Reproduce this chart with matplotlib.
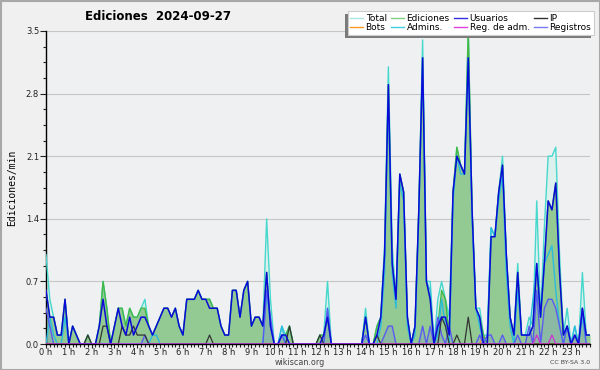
import matplotlib
matplotlib.use("Agg")
import matplotlib.pyplot as plt
from matplotlib.lines import Line2D
from matplotlib.patches import Rectangle
from matplotlib.ticker import MultipleLocator, FixedLocator
import numpy as np

# edits per minute, one value per 10 minutes (144 slots), one row per hour
total = [
    1.0, 0.5, 0.3, 0.1, 0.1, 0.5,
    0, 0.2, 0.1, 0, 0, 0.1,
    0, 0, 0.2, 0.7, 0.4, 0,
    0.2, 0.4, 0.4, 0.2, 0.4, 0.3,
    0.3, 0.4, 0.5, 0.2, 0.1, 0.2,
    0.3, 0.4, 0.4, 0.3, 0.4, 0.2,
    0.1, 0.5, 0.5, 0.5, 0.6, 0.5,
    0.5, 0.5, 0.4, 0.4, 0.2, 0.1,
    0.1, 0.6, 0.6, 0.3, 0.6, 0.7,
    0.2, 0.3, 0.3, 0.2, 1.4, 0.5,
    0, 0, 0.2, 0.1, 0.2, 0,
    0, 0, 0, 0, 0, 0,
    0.1, 0.1, 0.7, 0, 0, 0,
    0, 0, 0, 0, 0, 0,
    0.4, 0, 0, 0.2, 0.3, 1.1,
    3.1, 1.1, 0.5, 1.9, 1.7, 0.3,
    0, 0.2, 1.5, 3.4, 0.7, 0.7,
    0, 0.5, 0.7, 0.5, 0.3, 1.7,
    2.2, 2.0, 1.9, 3.5, 1.5, 0.4,
    0.4, 0.1, 0.1, 1.3, 1.2, 1.7,
    2.1, 1.0, 0.3, 0.1, 0.9, 0.1,
    0.1, 0.3, 0.2, 1.6, 0.3, 1.3,
    2.1, 2.1, 2.2, 1.0, 0.1, 0.4,
    0, 0.2, 0, 0.8, 0.1, 0.1,
]

ediciones = [
    0.6, 0.3, 0.3, 0.1, 0.1, 0.5,
    0, 0.2, 0.1, 0, 0, 0.1,
    0, 0, 0.2, 0.7, 0.4, 0,
    0.2, 0.4, 0.4, 0.2, 0.4, 0.3,
    0.3, 0.4, 0.4, 0.2, 0.1, 0.2,
    0.3, 0.4, 0.4, 0.3, 0.4, 0.2,
    0.1, 0.5, 0.5, 0.5, 0.6, 0.5,
    0.5, 0.5, 0.4, 0.4, 0.2, 0.1,
    0.1, 0.6, 0.6, 0.3, 0.6, 0.7,
    0.2, 0.3, 0.3, 0.2, 0.8, 0.2,
    0, 0, 0.1, 0.1, 0.2, 0,
    0, 0, 0, 0, 0, 0,
    0.1, 0.1, 0.3, 0, 0, 0,
    0, 0, 0, 0, 0, 0,
    0.3, 0, 0, 0.2, 0.3, 1.0,
    2.9, 0.9, 0.5, 1.9, 1.7, 0.3,
    0, 0.2, 1.5, 3.2, 0.7, 0.5,
    0, 0.2, 0.6, 0.5, 0.1, 1.7,
    2.2, 2.0, 1.9, 3.5, 1.5, 0.4,
    0.3, 0.1, 0, 1.2, 1.2, 1.7,
    2.0, 1.0, 0.3, 0.1, 0.8, 0.1,
    0.1, 0.1, 0.2, 0.9, 0.3, 0.9,
    1.6, 1.5, 1.8, 0.8, 0.1, 0.2,
    0, 0.1, 0, 0.4, 0.1, 0.1,
]

usuarios = [
    0.6, 0.3, 0.3, 0.1, 0.1, 0.5,
    0, 0.2, 0.1, 0, 0, 0,
    0, 0, 0.2, 0.5, 0.2, 0,
    0.2, 0.4, 0.2, 0.1, 0.3, 0.1,
    0.2, 0.3, 0.3, 0.2, 0.1, 0.2,
    0.3, 0.4, 0.4, 0.3, 0.4, 0.2,
    0.1, 0.5, 0.5, 0.5, 0.6, 0.5,
    0.5, 0.4, 0.4, 0.4, 0.2, 0.1,
    0.1, 0.6, 0.6, 0.3, 0.6, 0.7,
    0.2, 0.3, 0.3, 0.2, 0.8, 0.2,
    0, 0, 0.1, 0.1, 0, 0,
    0, 0, 0, 0, 0, 0,
    0, 0.1, 0.3, 0, 0, 0,
    0, 0, 0, 0, 0, 0,
    0.3, 0, 0, 0.1, 0.3, 1.0,
    2.9, 0.9, 0.5, 1.9, 1.7, 0.3,
    0, 0.2, 1.5, 3.2, 0.7, 0.5,
    0, 0.2, 0.3, 0.3, 0.1, 1.7,
    2.1, 2.0, 1.9, 3.2, 1.5, 0.4,
    0.3, 0, 0, 1.2, 1.2, 1.7,
    2.0, 1.0, 0.3, 0.1, 0.8, 0.1,
    0.1, 0.1, 0.2, 0.9, 0.3, 0.9,
    1.6, 1.5, 1.8, 0.8, 0.1, 0.2,
    0, 0.1, 0, 0.4, 0.1, 0.1,
]

ip = [
    0, 0, 0, 0, 0, 0,
    0, 0, 0, 0, 0, 0.1,
    0, 0, 0, 0.2, 0.2, 0,
    0, 0, 0.2, 0.1, 0.1, 0.2,
    0.1, 0.1, 0.1, 0, 0, 0,
    0, 0, 0, 0, 0, 0,
    0, 0, 0, 0, 0, 0,
    0, 0.1, 0, 0, 0, 0,
    0, 0, 0, 0, 0, 0,
    0, 0, 0, 0, 0, 0,
    0, 0, 0, 0, 0.2, 0,
    0, 0, 0, 0, 0, 0,
    0.1, 0, 0, 0, 0, 0,
    0, 0, 0, 0, 0, 0,
    0, 0, 0, 0.1, 0, 0,
    0, 0, 0, 0, 0, 0,
    0, 0, 0, 0, 0, 0,
    0, 0, 0.3, 0.2, 0, 0,
    0.1, 0, 0, 0.3, 0, 0,
    0, 0, 0, 0, 0, 0,
    0, 0, 0, 0, 0, 0,
    0, 0, 0, 0, 0, 0,
    0, 0, 0, 0, 0, 0,
    0, 0, 0, 0, 0, 0,
]

bots = [0] * 115 + [0.1] + [0] * 28

admins = [
    0, 0.3, 0.1, 0, 0, 0.3,
    0, 0, 0, 0, 0, 0,
    0, 0, 0, 0, 0, 0,
    0, 0, 0, 0, 0, 0,
    0, 0, 0, 0, 0.1, 0.1,
    0, 0, 0, 0, 0, 0,
    0, 0, 0, 0, 0, 0,
    0, 0, 0, 0, 0, 0,
    0, 0, 0, 0, 0, 0,
    0, 0, 0, 0, 0.6, 0.2,
    0, 0, 0.2, 0, 0, 0,
    0, 0, 0, 0, 0, 0,
    0, 0, 0.4, 0, 0, 0,
    0, 0, 0, 0, 0, 0,
    0.3, 0, 0, 0, 0.2, 0.8,
    2.8, 0.8, 0.4, 1.8, 1.6, 0.2,
    0, 0.1, 1.4, 3.2, 0.7, 0.6,
    0, 0.1, 0.5, 0.2, 0, 1.6,
    2.1, 1.9, 1.9, 3.2, 1.4, 0.4,
    0.2, 0, 0.1, 1.3, 1.2, 1.6,
    1.9, 0.8, 0.2, 0, 0.6, 0.1,
    0.1, 0.1, 0.5, 0.9, 0.3, 0.9,
    1.0, 1.1, 0.6, 0.2, 0, 0.2,
    0, 0.2, 0, 0.3, 0, 0,
]

reg_adm = [0] * 129 + [0.1, 0, 0, 0, 0.1] + [0] * 10

registros = [
    0.4, 0.2, 0, 0, 0, 0,
    0, 0, 0, 0, 0, 0,
    0, 0, 0, 0, 0, 0,
    0, 0, 0, 0, 0, 0,
    0, 0, 0.1, 0, 0, 0,
    0, 0, 0, 0, 0, 0,
    0, 0, 0, 0, 0, 0,
    0, 0, 0, 0, 0, 0,
    0, 0, 0, 0, 0, 0,
    0, 0, 0, 0, 0.6, 0.3,
    0, 0, 0.1, 0, 0, 0,
    0, 0, 0, 0, 0, 0,
    0, 0, 0.4, 0, 0, 0,
    0, 0, 0, 0, 0, 0,
    0.1, 0, 0, 0, 0, 0.1,
    0.2, 0.2, 0, 0, 0, 0,
    0, 0, 0, 0.2, 0, 0.2,
    0, 0.3, 0.1, 0, 0.2, 0,
    0, 0, 0, 0, 0, 0,
    0.1, 0, 0.1, 0.1, 0, 0,
    0.1, 0, 0, 0, 0.1, 0,
    0, 0.2, 0, 0.6, 0, 0.4,
    0.5, 0.5, 0.4, 0.2, 0, 0.2,
    0, 0.1, 0, 0.4, 0, 0,
]

hour_labels = [f"{h} h" for h in range(24)]

c_total = "#46d8cc"
c_total_fill = "#dcf1ee"
c_ed = "#44b844"
c_ed_fill = "#93c993"
c_usr = "#0a0ad8"
c_ip = "#333333"
c_bots = "#ff9a20"
c_adm = "#2cbcdc"
c_regadm = "#d030d0"
c_reg = "#5a5af0"

x = np.arange(len(total))

fig = plt.figure(figsize=(6, 3.7), dpi=100, facecolor="#f0f0f1")
ax = fig.add_axes([46 / 600, 26 / 370, 544 / 600, 313 / 370])
ax.set_facecolor("#eef0f2")

ax.fill_between(x, total, color=c_total_fill, lw=0, zorder=1)
ax.fill_between(x, ediciones, color=c_ed_fill, lw=0, zorder=2)
ax.fill_between(x, registros, color="#7a8ad8", alpha=0.25, lw=0, zorder=2.5)
ax.plot(x, total, color=c_total, lw=1.0, zorder=3)
ax.plot(x, ediciones, color=c_ed, lw=1.0, zorder=3.2)
ax.plot(x, admins, color=c_adm, lw=1.0, zorder=3.4)
ax.plot(x, registros, color=c_reg, lw=1.0, zorder=3.6)
ax.plot(x, ip, color=c_ip, lw=0.9, zorder=3.8)
ax.plot(x, usuarios, color=c_usr, lw=1.1, zorder=4)
ax.plot(x, reg_adm, color=c_regadm, lw=0.9, zorder=4.2)
ax.plot(x, bots, color=c_bots, lw=0.9, zorder=2.8)

ax.set_xlim(0, 143)
ax.set_ylim(0, 3.5)
ax.yaxis.set_major_locator(FixedLocator([0, 0.7, 1.4, 2.1, 2.8, 3.5]))
ax.yaxis.set_minor_locator(MultipleLocator(0.175))
ax.set_yticklabels(["0.0", "0.7", "1.4", "2.1", "2.8", "3.5"])
ax.xaxis.set_major_locator(FixedLocator(np.arange(0, 144, 6)))
ax.xaxis.set_minor_locator(MultipleLocator(1))
ax.set_xticklabels(hour_labels)
ax.grid(axis="y", color="#c6c6c6", lw=0.8)
ax.set_axisbelow(True)
for s in ["top", "right"]:
    ax.spines[s].set_visible(False)
for s in ["left", "bottom"]:
    ax.spines[s].set_color("black")
    ax.spines[s].set_linewidth(1.0)
ax.tick_params(which="major", length=4, width=0.8, labelsize=6, pad=1, colors="#222222")
ax.tick_params(which="minor", length=2.5, width=0.8, colors="#222222")
ax.tick_params(axis="x", which="major", length=3, pad=0)
ax.tick_params(axis="x", which="minor", length=2.5)

fig.text(85 / 600, 1 - 17 / 370, "Ediciones  2024-09-27", fontsize=8.5,
         fontweight="bold", family="DejaVu Sans", va="center", ha="left")
fig.text(12 / 600, 1 - 188 / 370, "Ediciones/min", rotation=90, fontsize=7,
         family="DejaVu Sans Mono", va="center", ha="center")
fig.text(300 / 600, 1 - 362.5 / 370, "wikiscan.org", fontsize=5.8, color="#444444",
         va="center", ha="center")
fig.text(590 / 600, 1 - 363 / 370, "CC BY-SA 3.0", fontsize=4.5, color="#444444",
         va="center", ha="right")

names = ["Total", "Bots", "Ediciones", "Admins.", "Usuarios", "Reg. de adm.", "IP", "Registros"]
colors = ["#a8e8e0", c_bots, "#80d080", "#40d0e0", "#3030e0", "#e040e0", "#303030", "#7878f0"]
handles = [Line2D([], [], color=c, lw=1.0) for c in colors]
leg = fig.legend(handles, names, ncol=4, loc="upper right",
                 bbox_to_anchor=(594 / 600, 1 - 11 / 370), fontsize=6.5,
                 handlelength=1.4, handletextpad=0.3, columnspacing=0.5,
                 labelspacing=0.05, borderpad=0.3, borderaxespad=0,
                 fancybox=False, framealpha=1, edgecolor="#cccccc")
leg.get_frame().set_linewidth(0.8)

fig.canvas.draw()
bb = leg.get_window_extent()
sh = Rectangle((bb.x0 - 3, bb.y0 - 3), bb.width, bb.height, transform=None,
               facecolor="#7a7a7a", edgecolor="none", zorder=4)
fig.patches.append(sh)

fig.patches.append(Rectangle((0.5, 0.5), 599, 369, transform=None, fill=False,
                             edgecolor="#a8a8a8", lw=1.5, zorder=10))

fig.savefig("out.png", dpi=100, facecolor=fig.get_facecolor())
